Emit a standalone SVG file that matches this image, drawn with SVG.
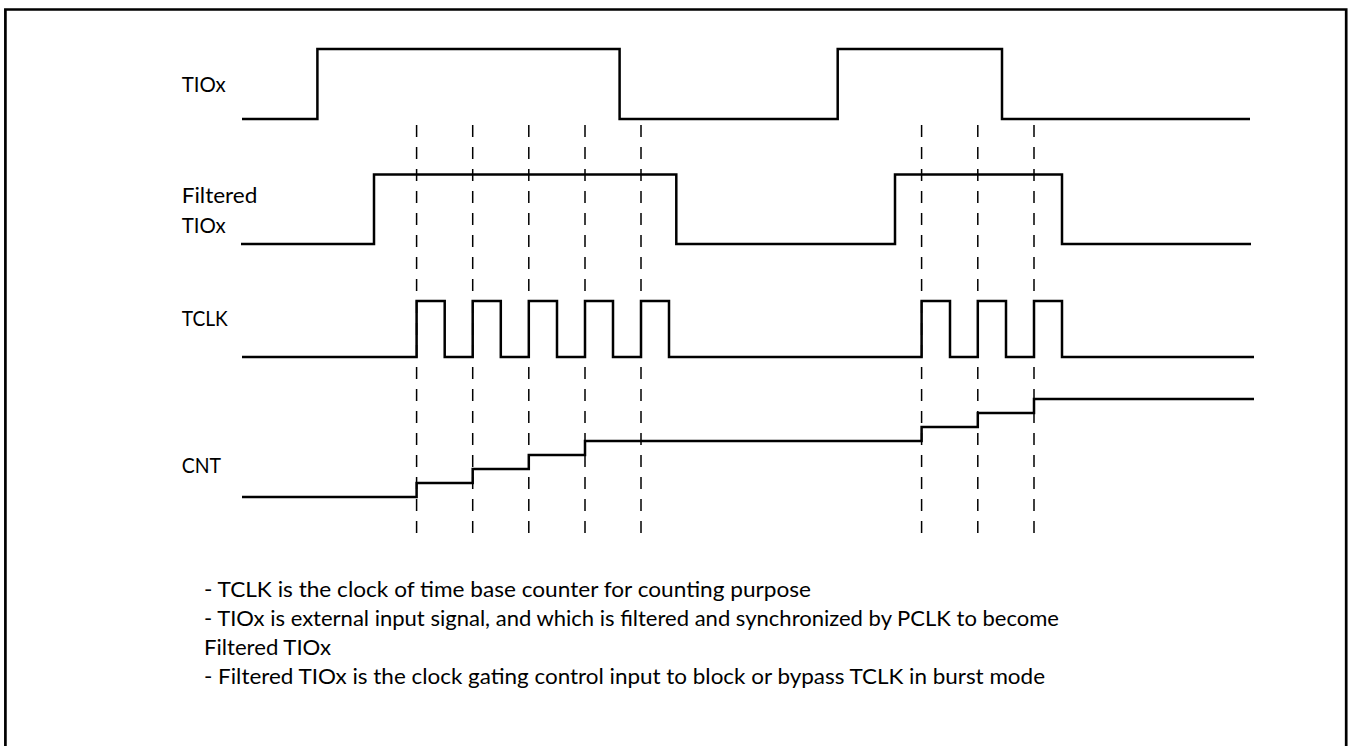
<svg xmlns="http://www.w3.org/2000/svg" width="1354" height="746" viewBox="0 0 1354 746">
  <style>
    .wave { fill: none; stroke: #000; stroke-width: 2.5; stroke-linejoin: miter; stroke-linecap: butt; }
    .dash { fill: none; stroke: #000; stroke-width: 1.5; stroke-dasharray: 12 10; }
    .frame { fill: none; stroke: #000; stroke-width: 2.7; }
    .lbl { font-family: Lato, "Liberation Sans", sans-serif; font-size: 21.5px; fill: #000; }
  </style>
  <rect width="1354" height="746" fill="#fff"/>
  <path class="frame" d="M5.4,750 V9.5 H1346.2 V750"/>

  <g id="connectors">
    <line class="dash" x1="416.6" y1="125" x2="416.6" y2="533"/>
    <line class="dash" x1="472.7" y1="125" x2="472.7" y2="533"/>
    <line class="dash" x1="528.8" y1="125" x2="528.8" y2="533"/>
    <line class="dash" x1="585" y1="125" x2="585" y2="533"/>
    <line class="dash" x1="641" y1="125" x2="641" y2="533"/>
    <line class="dash" x1="921.6" y1="125" x2="921.6" y2="533"/>
    <line class="dash" x1="977.8" y1="125" x2="977.8" y2="533"/>
    <line class="dash" x1="1034" y1="125" x2="1034" y2="533"/>
  </g>

  <g id="tiox">
    <text class="lbl" x="181.7" y="92.3" textLength="44" lengthAdjust="spacingAndGlyphs">TIOx</text>
    <path class="wave" d="M242,119 H317.4 V49 H619.6 V119 H837.7 V49 H1002 V119 H1250"/>
  </g>

  <g id="filtered-tiox">
    <text class="lbl" x="181.7" y="203.3" textLength="75.7" lengthAdjust="spacingAndGlyphs">Filtered</text>
    <text class="lbl" x="181.7" y="233.3" textLength="44" lengthAdjust="spacingAndGlyphs">TIOx</text>
    <path class="wave" d="M241,244 H374 V174.5 H676.3 V244 H895 V174.5 H1062 V244 H1251"/>
  </g>

  <g id="tclk">
    <text class="lbl" x="181.7" y="326" textLength="46" lengthAdjust="spacingAndGlyphs">TCLK</text>
    <path class="wave" d="M242,357 H416.6 V301 H444.7 V357 H472.7 V301 H500.8 V357 H528.8 V301 H557 V357 H585 V301 H613 V357 H641 V301 H669 V357 H921.6 V301 H950 V357 H977.8 V301 H1006 V357 H1034 V301 H1062 V357 H1254"/>
  </g>

  <g id="cnt">
    <text class="lbl" x="181.7" y="473.3" textLength="39.3" lengthAdjust="spacingAndGlyphs">CNT</text>
    <path class="wave" d="M242,497 H416.6 V483 H472.7 V469 H528.8 V455 H585 V441 H921.6 V427 H977.8 V413 H1034 V399 H1254"/>
  </g>

  <g id="notes">
    <text class="lbl" x="204" y="597" textLength="607" lengthAdjust="spacingAndGlyphs">- TCLK is the clock of time base counter for counting purpose</text>
    <text class="lbl" x="204" y="626" textLength="855" lengthAdjust="spacingAndGlyphs">- TIOx is external input signal, and which is filtered and synchronized by PCLK to become</text>
    <text class="lbl" x="204" y="655" textLength="127" lengthAdjust="spacingAndGlyphs">Filtered TIOx</text>
    <text class="lbl" x="204" y="684" textLength="841" lengthAdjust="spacingAndGlyphs">- Filtered TIOx is the clock gating control input to block or bypass TCLK in burst mode</text>
  </g>
</svg>
